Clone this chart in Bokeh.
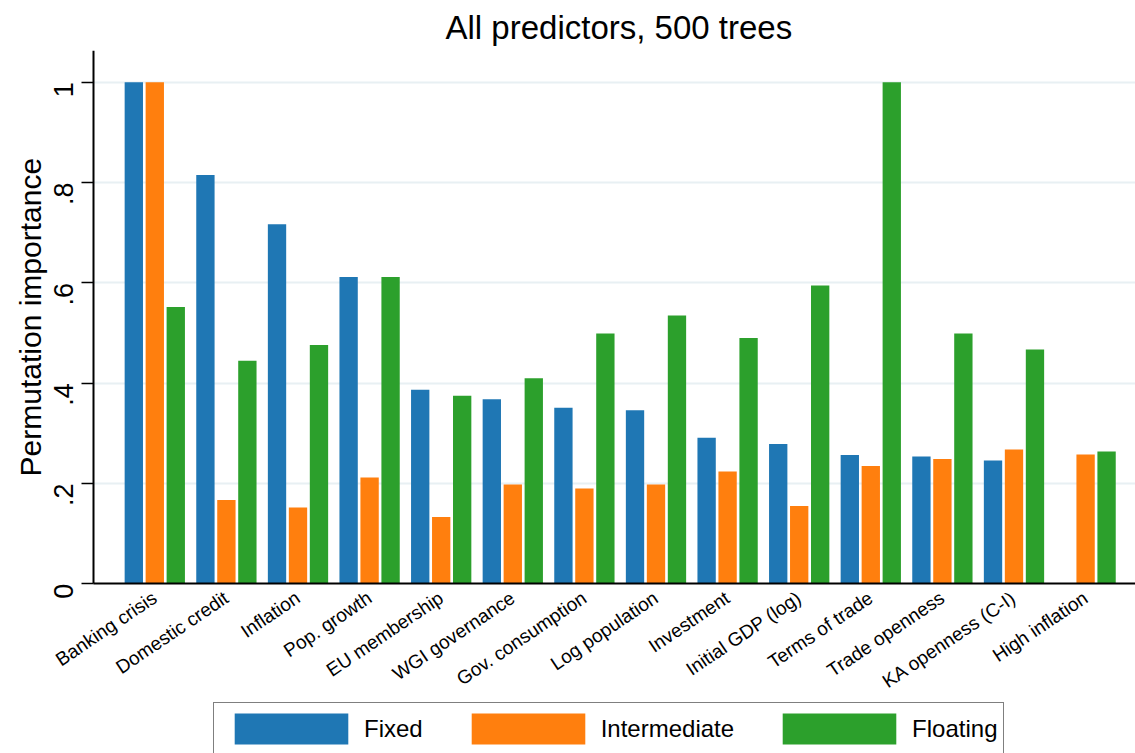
import math
from bokeh.plotting import figure
from bokeh.models import (ColumnDataSource, Range1d, FixedTicker, Legend, LegendItem, Label)
from bokeh.transform import dodge
from bokeh.embed import file_html
from bokeh.resources import INLINE

categories = ["Banking crisis", "Domestic credit", "Inflation", "Pop. growth",
              "EU membership", "WGI governance", "Gov. consumption", "Log population",
              "Investment", "Initial GDP (log)", "Terms of trade", "Trade openness",
              "KA openness (C-I)", "High inflation"]
fixed = [1.0, 0.815, 0.717, 0.612, 0.387, 0.368, 0.351, 0.346, 0.291, 0.279, 0.257, 0.254, 0.246, None]
intermediate = [1.0, 0.167, 0.152, 0.212, 0.133, 0.198, 0.190, 0.198, 0.224, 0.155, 0.235, 0.249, 0.268, 0.258]
floating = [0.552, 0.445, 0.476, 0.612, 0.375, 0.410, 0.499, 0.535, 0.490, 0.595, 1.0, 0.499, 0.467, 0.264]
series_names = ["Fixed", "Intermediate", "Floating"]
colors = ["#1f77b4", "#ff7f0e", "#2ca02c"]
y_ticks = [0, 0.2, 0.4, 0.6, 0.8, 1]
y_tick_labels = ["0", ".2", ".4", ".6", ".8", "1"]

FONT = "Liberation Sans"

source = ColumnDataSource(dict(
    x=list(range(len(categories))),
    fixed=[float("nan") if v is None else v for v in fixed],
    intermediate=intermediate,
    floating=floating,
))

Y_TOP = 1.0634
Y_BOTTOM = -0.3384
X_START = -2.155
X_AXIS = -0.852
X_END = 13.697

p = figure(width=1135, height=753, output_backend="svg", toolbar_location=None,
           x_range=Range1d(X_START, X_END), y_range=Range1d(Y_BOTTOM, Y_TOP),
           min_border_left=0, min_border_right=0, min_border_top=50, min_border_bottom=0,
           frame_width=1135, frame_height=703)
p.outline_line_color = None
p.background_fill_color = "white"
p.border_fill_color = "white"

p.title.text = "All predictors, 500 trees"
p.title.align = "left"
p.title.offset = 445
p.title.text_font = FONT
p.title.text_font_size = "33px"
p.title.text_font_style = "normal"
p.title.text_color = "black"
p.title.standoff = 10

bw = 0.256
off = 0.293
renderers = []
for col, dx, c in zip(["fixed", "intermediate", "floating"], [-off, 0, off], colors):
    r = p.vbar(x=dodge("x", dx, range=p.x_range), top=col, bottom=0, width=bw,
               source=source, fill_color=c, line_color=None)
    renderers.append(r)

# x axis, pinned at y = 0
xa = p.xaxis[0]
xa.fixed_location = 0
xa.bounds = (X_AXIS, X_END)
xa.ticker = FixedTicker(ticks=list(range(len(categories))))
xa.major_label_overrides = {i: name for i, name in enumerate(categories)}
xa.major_label_orientation = math.radians(34)
xa.major_label_text_font = FONT
xa.major_label_text_font_size = "19px"
xa.major_label_text_color = "black"
xa.major_tick_line_color = None
xa.minor_tick_line_color = None
xa.axis_line_color = "black"
xa.axis_line_width = 2
xa.major_label_standoff = 6

# y axis, pinned at the left edge of the plot region
ya = p.yaxis[0]
ya.fixed_location = X_AXIS
ya.bounds = (0, Y_TOP)
ya.ticker = FixedTicker(ticks=y_ticks)
ya.major_label_overrides = {t: l for t, l in zip(y_ticks, y_tick_labels)}
ya.major_label_orientation = math.pi / 2
ya.major_label_text_font = FONT
ya.major_label_text_font_size = "27px"
ya.major_label_text_color = "black"
ya.major_tick_out = 12
ya.major_tick_in = 0
ya.major_tick_line_width = 1.5
ya.major_tick_line_color = "black"
ya.minor_tick_line_color = None
ya.axis_line_color = "black"
ya.axis_line_width = 2
ya.major_label_standoff = 18

p.add_layout(Label(x=30, y=Y_TOP / 2, x_units="screen", y_units="data",
                   text="Permutation importance", angle=math.pi / 2,
                   text_align="center", text_baseline="middle",
                   text_font=FONT, text_font_size="30px", text_color="black"))

p.xgrid.grid_line_color = None
p.ygrid.ticker = FixedTicker(ticks=y_ticks[1:])
p.ygrid.cross_bounds = (X_AXIS, X_END)
p.ygrid.grid_line_color = "#e8f0f3"
p.ygrid.grid_line_width = 2

legend = Legend(items=[LegendItem(label=n, renderers=[r]) for n, r in zip(series_names, renderers)],
                orientation="horizontal", location=(213, -2))
legend.glyph_width = 142
legend.glyph_height = 39
legend.label_standoff = 2
legend.spacing = 34
legend.padding = 6
legend.margin = 0
legend.label_text_font = FONT
legend.label_text_font_size = "24px"
legend.label_text_color = "black"
legend.border_line_color = "black"
legend.border_line_width = 1.5
legend.background_fill_color = "white"
p.add_layout(legend, "center")

open("out.html", "w").write(file_html(p, INLINE))
